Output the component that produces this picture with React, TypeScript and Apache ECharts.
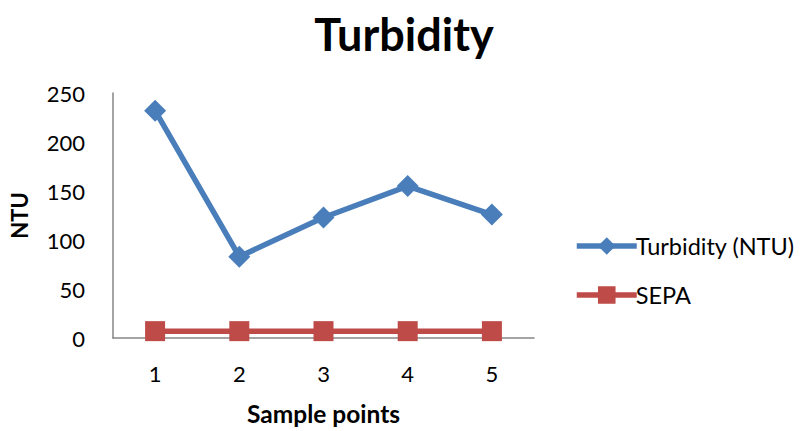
import React, { useEffect, useRef } from "react";
import * as echarts from "echarts";

const samplePoints = ["1", "2", "3", "4", "5"];
const turbidityNTU = [232, 83, 123, 155, 126];
const sepaLimit = [7, 7, 7, 7, 7];

const FONT = "Lato, 'Open Sans', sans-serif";
const BLUE = "#4a7ebb";
const RED = "#be4b48";

export default function App() {
  const ref = useRef<HTMLDivElement>(null);

  useEffect(() => {
    document.body.style.margin = "0";
    if (!ref.current) return;
    const chart = echarts.init(ref.current, null, { renderer: "svg" });
    chart.setOption({
      animation: false,
      backgroundColor: "#ffffff",
      textStyle: { fontFamily: FONT },
      title: {
        text: "Turbidity",
        left: 399,
        top: 6,
        textAlign: "center",
        textStyle: { fontFamily: FONT, fontSize: 45, fontWeight: "bold", color: "#000" },
      },
      grid: { left: 112, top: 93, right: 267, bottom: 88 },
      legend: {
        orient: "vertical",
        left: 569,
        top: 229,
        itemGap: 25,
        itemWidth: 60,
        itemHeight: 22,
        textStyle: { fontFamily: FONT, fontSize: 23.5, color: "#000", padding: [0, 0, 0, -6] },
        data: [
          { name: "Turbidity (NTU)", lineStyle: { width: 5.5, color: BLUE } },
          { name: "SEPA", lineStyle: { width: 5.5, color: RED } },
        ],
      },
      xAxis: {
        type: "category",
        data: samplePoints,
        boundaryGap: true,
        name: "Sample points",
        nameLocation: "middle",
        nameGap: 63,
        nameTextStyle: { fontFamily: FONT, fontSize: 24.5, fontWeight: "bold", color: "#000" },
        axisLine: { lineStyle: { color: "#868686", width: 1.5 } },
        axisTick: { show: false },
        axisLabel: { fontFamily: FONT, fontSize: 22, color: "#000", margin: 24 },
      },
      yAxis: {
        type: "value",
        min: 0,
        max: 250,
        interval: 50,
        name: "NTU",
        nameLocation: "middle",
        nameGap: 83,
        nameRotate: 90,
        nameTextStyle: { fontFamily: FONT, fontSize: 22, fontWeight: "bold", color: "#000" },
        axisLine: { show: true, lineStyle: { color: "#868686", width: 1.5 } },
        axisTick: { show: false },
        splitLine: { show: false },
        axisLabel: { fontFamily: FONT, fontSize: 22, color: "#000", margin: 28 },
      },
      series: [
        {
          name: "Turbidity (NTU)",
          type: "line",
          data: turbidityNTU,
          color: BLUE,
          symbol: "diamond",
          symbolSize: 22,
          lineStyle: { width: 5.5, color: BLUE },
          itemStyle: { color: BLUE },
        },
        {
          name: "SEPA",
          type: "line",
          data: sepaLimit,
          color: RED,
          symbol: "rect",
          symbolSize: 20,
          lineStyle: { width: 5.5, color: RED },
          itemStyle: { color: RED },
        },
      ],
    });
    return () => chart.dispose();
  }, []);

  return <div ref={ref} style={{ width: 801, height: 431 }} />;
}
